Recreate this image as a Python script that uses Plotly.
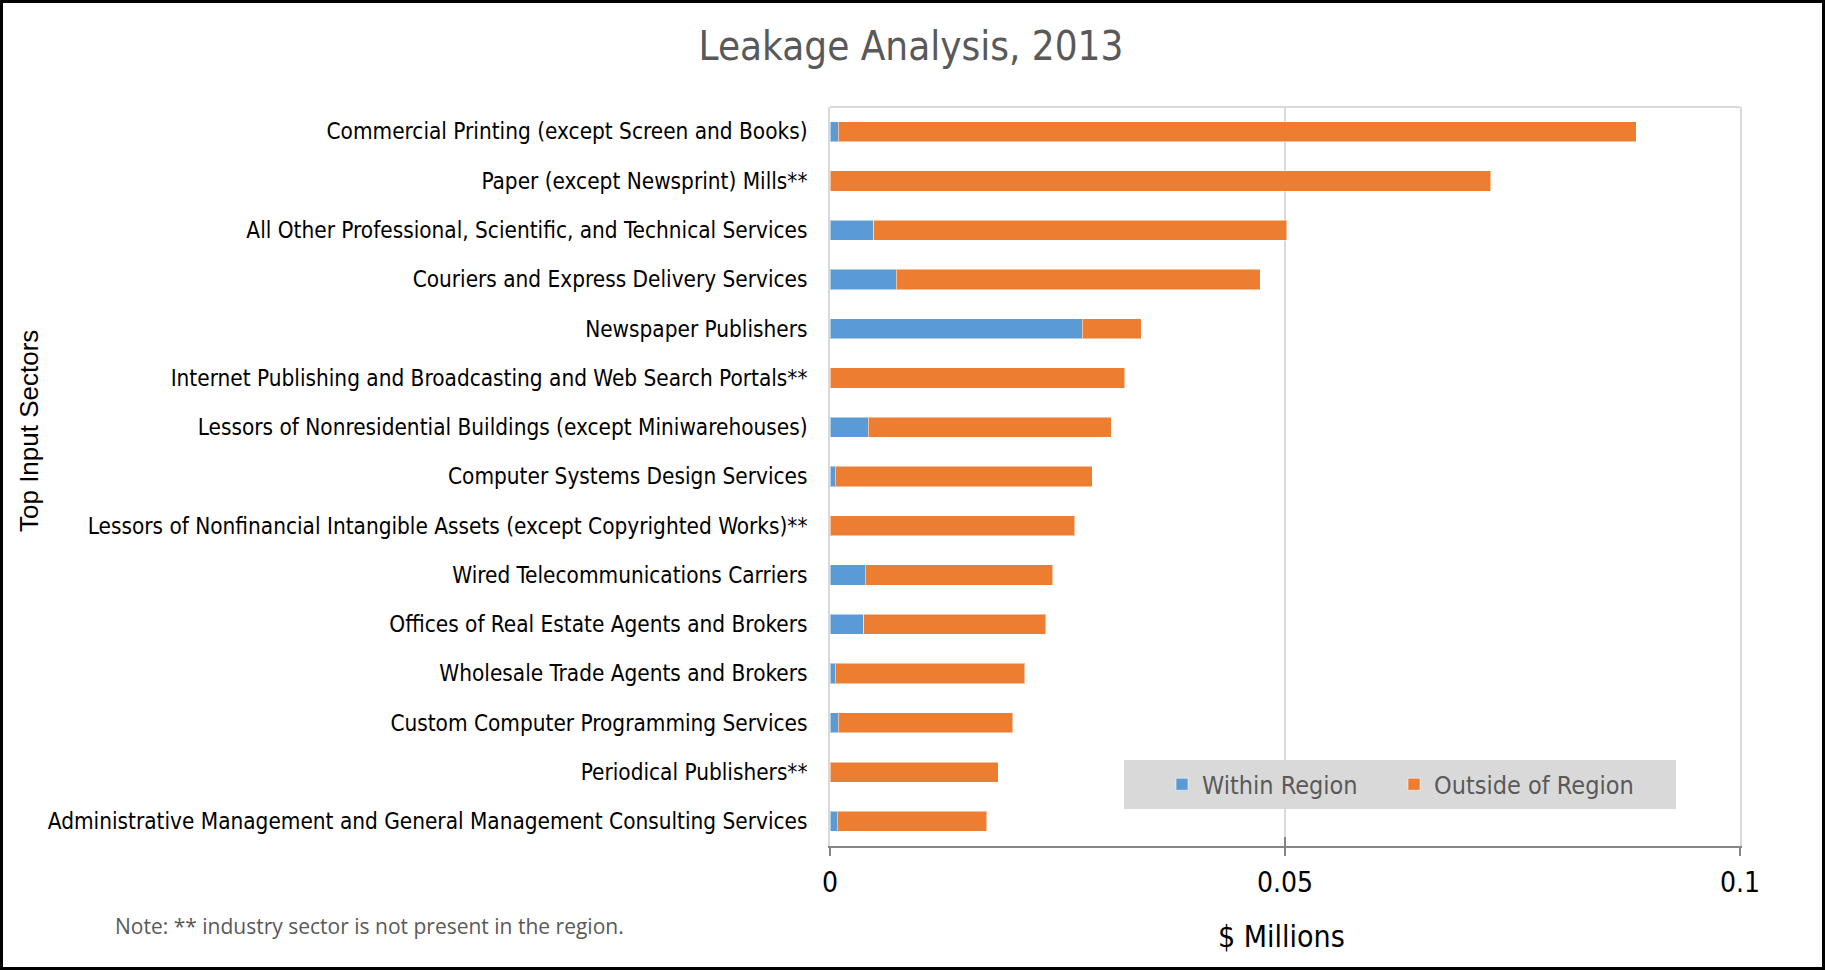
import plotly.graph_objects as go

sectors = [
    "Commercial Printing (except Screen and Books)",
    "Paper (except Newsprint) Mills**",
    "All Other Professional, Scientific, and Technical Services",
    "Couriers and Express Delivery Services",
    "Newspaper Publishers",
    "Internet Publishing and Broadcasting and Web Search Portals**",
    "Lessors of Nonresidential Buildings (except Miniwarehouses)",
    "Computer Systems Design Services",
    "Lessors of Nonfinancial Intangible Assets (except Copyrighted Works)**",
    "Wired Telecommunications Carriers",
    "Offices of Real Estate Agents and Brokers",
    "Wholesale Trade Agents and Brokers",
    "Custom Computer Programming Services",
    "Periodical Publishers**",
    "Administrative Management and General Management Consulting Services",
]
within_region = [0.0009, 0.0, 0.0048, 0.0073, 0.0277, 0.0, 0.0042, 0.0006, 0.0,
                 0.0039, 0.0037, 0.0006, 0.0009, 0.0, 0.0008]
outside_region = [0.0877, 0.0726, 0.0454, 0.0400, 0.0065, 0.0324, 0.0267, 0.0282, 0.0269,
                  0.0206, 0.0200, 0.0208, 0.0192, 0.0185, 0.0164]
x_ticks = [0, 0.05, 0.1]
x_tick_labels = ["0", "0.05", "0.1"]

FONT = "DejaVu Sans Condensed, Liberation Sans, Arial, sans-serif"
W, H = 1825, 970
L, R, T, B = 830, 85, 107, 124
PW, PH = W - L - R, H - T - B

def px(xp):
    return (xp - L) / PW

def py(yp):
    return (H - B - yp) / PH

fig = go.Figure()
fig.add_trace(go.Bar(
    y=sectors, x=within_region, name="Within Region", orientation="h",
    marker=dict(color="#5b9bd5", line=dict(color="rgba(255,255,255,0.5)", width=1)),
    width=0.41, legend="legend",
))
fig.add_trace(go.Bar(
    y=sectors, x=outside_region, name="Outside of Region", orientation="h",
    marker=dict(color="#ed7d31", line=dict(color="rgba(255,255,255,0.5)", width=1)),
    width=0.41, legend="legend2",
))
# invisible trace on overlay axis used only to draw the outward half of the tick marks
fig.add_trace(go.Scatter(x=[0, 0.1], y=[sectors[0], sectors[0]], xaxis="x2",
                         mode="markers", marker=dict(opacity=0), showlegend=False,
                         hoverinfo="skip"))

legend_style = dict(orientation="h", xanchor="left", yanchor="middle", y=py(784.5),
                    bgcolor="rgba(0,0,0,0)", font=dict(size=25, color="#595959", family=FONT),
                    itemwidth=30)

fig.update_layout(
    width=W, height=H,
    barmode="stack",
    paper_bgcolor="white", plot_bgcolor="white",
    margin=dict(l=L, r=R, t=T, b=B, autoexpand=False),
    font=dict(family=FONT, color="#000000"),
    title=dict(text="Leakage Analysis, 2013", x=911 / W, y=1 - 46 / H,
               xanchor="center", yanchor="middle", xref="container", yref="container",
               font=dict(size=40, color="#595959", family=FONT)),
    xaxis=dict(range=[0, 0.1], tickvals=x_ticks, ticktext=x_tick_labels,
               showgrid=True, gridcolor="#d9d9d9", gridwidth=2,
               showline=True, linecolor="#868686", linewidth=2,
               ticks="inside", ticklen=9, tickwidth=2, tickcolor="#868686",
               tickfont=dict(size=28, color="#000000", family=FONT), ticklabelstandoff=10,
               zeroline=False, fixedrange=True),
    xaxis2=dict(range=[0, 0.1], overlaying="x", side="bottom", tickvals=x_ticks,
                showticklabels=False, ticks="outside", ticklen=9, tickwidth=2,
                tickcolor="#868686", showgrid=False, showline=False, zeroline=False),
    yaxis=dict(range=[len(sectors) - 0.5, -0.5], showline=True, mirror=True,
               linecolor="#d9d9d9", linewidth=2, ticks="",
               tickfont=dict(size=22.4, color="#000000", family=FONT),
               ticklabelstandoff=16, showgrid=False),
    legend=dict(x=px(1162), **legend_style),
    legend2=dict(x=px(1394), **legend_style),
    showlegend=True,
)

# legend background box
fig.add_shape(type="rect", xref="paper", yref="paper",
              x0=px(1124), x1=px(1676), y0=py(809), y1=py(760),
              line=dict(width=0), fillcolor="#d9d9d9", layer="above")
# top border of plot area
fig.add_shape(type="line", xref="paper", yref="paper", x0=0, x1=1, y0=1, y1=1,
              line=dict(color="#d9d9d9", width=2))
# outer black frame
fig.add_shape(type="rect", xref="paper", yref="paper",
              x0=px(1.5), x1=px(W - 1.5), y0=py(H - 1.5), y1=py(1.5),
              line=dict(color="#000000", width=3), fillcolor="rgba(0,0,0,0)", layer="above")

fig.add_annotation(text="Top Input Sectors", textangle=-90, xref="paper", yref="paper",
                   x=px(29), y=py(431), showarrow=False, xanchor="center", yanchor="middle",
                   font=dict(size=26, color="#000000", family="Liberation Sans, Arial, sans-serif"))
fig.add_annotation(text="$ Millions", xref="paper", yref="paper",
                   x=px(1281), y=py(936), showarrow=False, xanchor="center", yanchor="middle",
                   font=dict(size=30, color="#000000", family=FONT))
fig.add_annotation(text="Note: ** industry sector is not present in the region.",
                   xref="paper", yref="paper", x=px(113), y=py(926), showarrow=False,
                   xanchor="left", yanchor="middle",
                   font=dict(size=21, color="#595959", family="Open Sans, Liberation Sans, sans-serif"))

fig.write_html("out.html", config={"displayModeBar": False},
               post_script="document.body.style.margin='0';document.body.style.overflow='hidden';")
